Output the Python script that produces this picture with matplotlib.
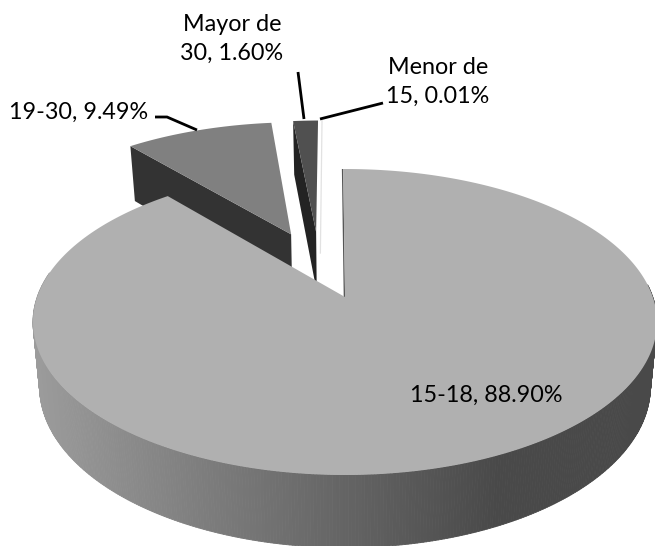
import numpy as np
import matplotlib
matplotlib.use("Agg")
import matplotlib.pyplot as plt
from matplotlib.patches import Polygon
from matplotlib.collections import PolyCollection

categories = ["15-18", "19-30", "Mayor de 30", "Menor de 15"]
values = [88.90, 9.49, 1.60, 0.01]
label_texts = ["15-18, 88.90%", "19-30, 9.49%", "Mayor de\n30, 1.60%", "Menor de\n15, 0.01%"]

top_colors = ["#B0B0B0", "#808080", "#505050", "#E2E2E2"]
side_colors = ["#555555", "#333333", "#232323", "#E2E2E2"]
offsets = [(0.0, 0.0), (-0.188, 0.452), (-0.101, 0.47), (-0.087, 0.47)]
start_deg = -0.4

W, H = 655, 546
cx, cy = 345.0, 297.0
A, B, K = 307.8, 148.9, 0.1634


def project(X, Y):
    X, Y = np.asarray(X, float), np.asarray(Y, float)
    d = 1 + K * Y
    return cx + A * X / d, cy - B * Y / d


def lower(px, py):
    return cx + (np.asarray(px) - cx) * 0.979, 47.0 + 1.054 * np.asarray(py)


def face(a0, a1, off, n=120):
    t = np.radians(np.linspace(a0, a1, n))
    X = np.r_[off[0], off[0] + np.sin(t)]
    Y = np.r_[off[1], off[1] + np.cos(t)]
    return project(X, Y)


def radial(a, off, r0=0.0, r1=1.0):
    t = np.radians(a)
    return project([off[0] + r0 * np.sin(t), off[0] + r1 * np.sin(t)],
                   [off[1] + r0 * np.cos(t), off[1] + r1 * np.cos(t)])


fig = plt.figure(figsize=(W / 100, H / 100), dpi=100)
ax = fig.add_axes([0, 0, 1, 1])
ax.set_xlim(0, W)
ax.set_ylim(H, 0)
ax.axis("off")

angles = start_deg + np.r_[0, np.cumsum(values)] * 3.6
z = 1

# back slices: radial wall then top face
for i in [1, 2]:
    a0, a1 = angles[i], angles[i + 1]
    rx, ry = radial(a0, offsets[i])
    lx, ly = lower(rx, ry)
    ax.add_patch(Polygon(np.c_[np.r_[rx, lx[::-1]], np.r_[ry, ly[::-1]]],
                         fc=side_colors[i], ec="none", zorder=z))
    z += 1
for i in [2, 1]:
    a0, a1 = angles[i], angles[i + 1]
    fx, fy = face(a0, a1, offsets[i])
    ax.add_patch(Polygon(np.c_[fx, fy], fc=top_colors[i], ec="none", zorder=z))
    z += 1

# almost empty slice: hairline
a = angles[3]
rx, ry = radial(a, offsets[3], -0.16, 1.0)
ax.plot(rx + 0.5, ry, color=top_colors[3], lw=0.9, zorder=z)

# main slice rim with horizontal shading
ang = np.linspace(angles[0], angles[1], 640)
ang = ang[(ang > 85) & (ang < 280)]
tx, ty = project(np.sin(np.radians(ang)), np.cos(np.radians(ang)))
bx, by = lower(tx, ty)
strips, cols = [], []
for j in range(len(ang) - 1):
    strips.append([(tx[j], ty[j]), (tx[j + 1], ty[j + 1]), (bx[j + 1], by[j + 1]), (bx[j], by[j])])
    g = np.interp((tx[j] + tx[j + 1]) / 2, [33, 500, 655], [0.61, 0.285, 0.285])
    cols.append((g, g, g))
ax.add_collection(PolyCollection(strips, facecolors=cols, edgecolors=cols, linewidths=0.6, zorder=10))

# thin wall on the main slice's first edge
rx, ry = radial(angles[0], offsets[0])
ax.plot(rx - 0.6, ry, color=side_colors[0], lw=1.0, zorder=11, solid_capstyle="butt")

# main slice top
fx, fy = face(angles[0], angles[1], offsets[0], 500)
ax.add_patch(Polygon(np.c_[fx, fy], fc=top_colors[0], ec="none", zorder=12))

# leader lines
lead = dict(color="black", lw=2.0, zorder=20, solid_capstyle="butt", solid_joinstyle="miter")
ax.plot([155, 167, 197], [117, 117, 130], **lead)
ax.plot([298, 304], [72, 119], **lead)
ax.plot([320, 383], [119, 103], **lead)

# labels
font = dict(family="Lato", fontsize=16.8, color="black", zorder=21, linespacing=1.42)
ax.text(486, 395, label_texts[0], ha="center", va="center", **font)
ax.text(79, 112, label_texts[1], ha="center", va="center", **font)
ax.text(232, 39, label_texts[2], ha="center", va="center", **font)
ax.text(438, 82, label_texts[3], ha="center", va="center", **font)

fig.savefig("out.png", dpi=100, facecolor="white")
